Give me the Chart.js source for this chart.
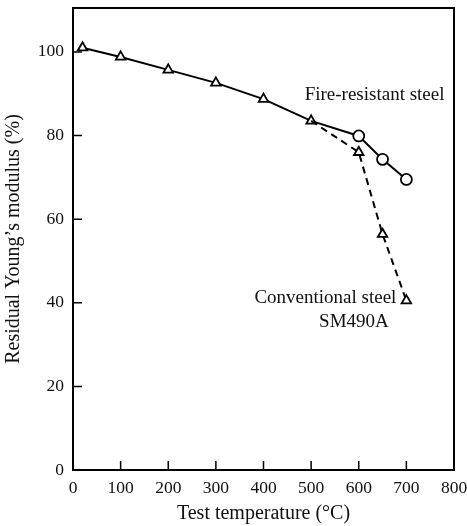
<!DOCTYPE html>
<html>
<head>
<meta charset="utf-8">
<script src="https://cdn.jsdelivr.net/npm/chart.js@4/dist/chart.umd.min.js"></script>
<style>
  html, body { margin: 0; padding: 0; background: #fff; }
  #wrap { width: 467px; height: 526px; }
</style>
</head>
<body>
<div id="wrap"><canvas id="chartModulus"></canvas></div>
<script>
// temperatures (°C) and residual Young's modulus (%)
const fireTemps = [20, 100, 200, 300, 400, 500, 600, 650, 700];
const fireValues = [101.0, 98.8, 95.7, 92.6, 88.7, 83.5, 79.9, 74.3, 69.5];
const fireMarkers = ['triangle', 'triangle', 'triangle', 'triangle', 'triangle', 'triangle', 'circle', 'circle', 'circle'];
const convTemps = [500, 600, 650, 700];
const convValues = [83.5, 76.0, 56.4, 40.5];
const xTicks = [0, 100, 200, 300, 400, 500, 600, 700, 800];
const yTicks = [0, 20, 40, 60, 80, 100];

const serif = '"Liberation Serif", "DejaVu Serif", serif';

// frame, inward ticks and the two series labels
const framePlugin = {
    id: 'frame',
    afterDraw(chart) {
        const ctx = chart.ctx;
        const a = chart.chartArea;
        const x = chart.scales.x, y = chart.scales.y;
        ctx.save();
        ctx.strokeStyle = '#000';
        ctx.lineWidth = 2;
        ctx.strokeRect(a.left, a.top, a.right - a.left, a.bottom - a.top);
        ctx.lineWidth = 1.5;
        ctx.beginPath();
        yTicks.forEach(v => {
            if (v === 0) return;
            const p = y.getPixelForValue(v);
            ctx.moveTo(a.left, p);
            ctx.lineTo(a.left + 9, p);
        });
        xTicks.forEach(v => {
            if (v === 0 || v === 800) return;
            const p = x.getPixelForValue(v);
            ctx.moveTo(p, a.bottom);
            ctx.lineTo(p, a.bottom - 9);
        });
        ctx.stroke();

        ctx.fillStyle = '#111';
        ctx.font = '19px ' + serif;
        ctx.textBaseline = 'middle';
        ctx.textAlign = 'right';
        ctx.fillText('Fire-resistant steel', x.getPixelForValue(780), y.getPixelForValue(89.6));
        ctx.fillText('Conventional steel', x.getPixelForValue(679), y.getPixelForValue(41.2));
        ctx.fillText('SM490A', x.getPixelForValue(663), y.getPixelForValue(35.5));
        ctx.restore();
    }
};

const ctxModulus = document.getElementById('chartModulus').getContext('2d');
const chart = new Chart(ctxModulus, {
    type: 'line',
    data: {
        datasets: [{
            label: 'Conventional steel SM490A',
            data: convTemps.map((t, i) => ({ x: t, y: convValues[i] })),
            borderColor: '#000',
            borderWidth: 2,
            borderDash: [7, 5],
            pointStyle: 'triangle',
            pointRadius: [0, 5.5, 5.5, 5.5],
            pointBorderWidth: 1.8,
            pointBorderColor: '#000',
            pointBackgroundColor: '#fff',
            fill: false,
            tension: 0
        }, {
            label: 'Fire-resistant steel',
            data: fireTemps.map((t, i) => ({ x: t, y: fireValues[i] })),
            borderColor: '#000',
            borderWidth: 2,
            pointStyle: fireMarkers,
            pointRadius: 5.5,
            pointBorderWidth: 1.8,
            pointBorderColor: '#000',
            pointBackgroundColor: '#fff',
            fill: false,
            tension: 0
        }]
    },
    options: {
        responsive: true,
        maintainAspectRatio: false,
        animation: false,
        layout: { padding: { top: 8, right: 13, left: 0, bottom: 0 } },
        plugins: {
            legend: { display: false },
            tooltip: { enabled: false }
        },
        scales: {
            x: {
                type: 'linear',
                min: 0,
                max: 800,
                afterBuildTicks: s => { s.ticks = xTicks.map(v => ({ value: v })); },
                afterFit: s => { s.height = 56; s.paddingLeft = 0; s.paddingRight = 0; },
                grid: { display: false },
                border: { display: false },
                ticks: { color: '#111', font: { family: serif, size: 17.5 }, padding: 0, maxRotation: 0 },
                title: { display: true, text: 'Test temperature (°C)', color: '#111', font: { family: serif, size: 20 }, padding: { top: 0, bottom: 0 } }
            },
            y: {
                type: 'linear',
                min: 0,
                max: 110.5,
                afterBuildTicks: s => { s.ticks = yTicks.map(v => ({ value: v })); },
                afterFit: s => { s.width = 73; s.paddingTop = 0; s.paddingBottom = 0; },
                grid: { display: false },
                border: { display: false },
                ticks: { color: '#111', font: { family: serif, size: 17.5 }, padding: 1 },
                title: { display: true, text: 'Residual Young\u2019s modulus (%)', color: '#111', font: { family: serif, size: 20 }, padding: { top: 2, bottom: 0 } }
            }
        }
    },
    plugins: [framePlugin]
});
</script>
</body>
</html>
